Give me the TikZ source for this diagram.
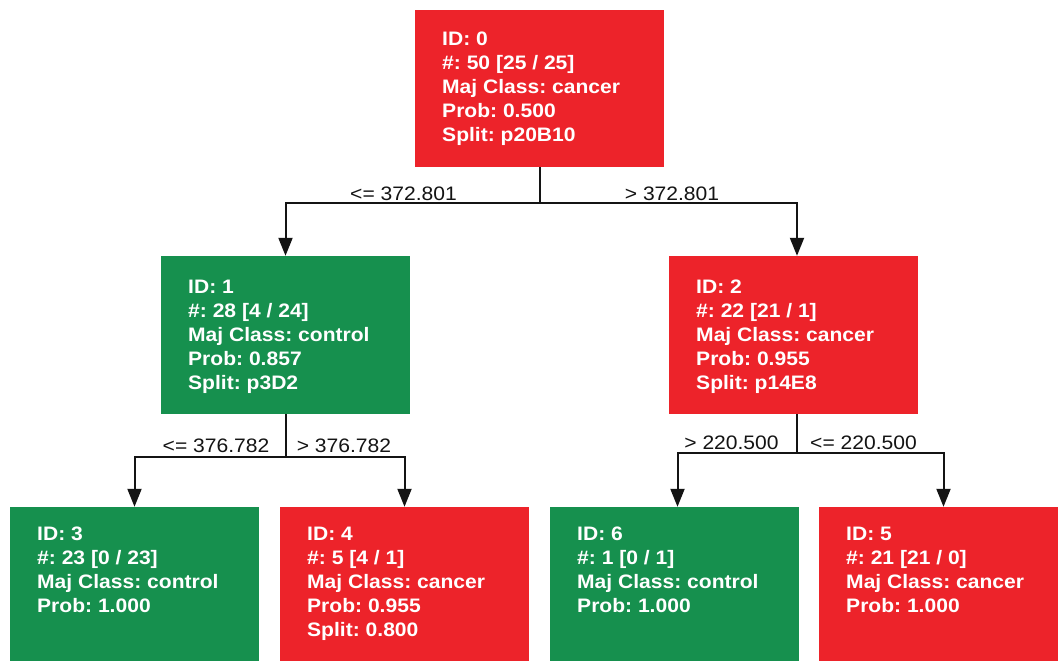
\documentclass[tikz,border=0pt]{standalone}
\usepackage{fontspec}
\setmainfont{Liberation Sans}[FakeStretch=1.08]
\usetikzlibrary{arrows.meta}
\definecolor{nred}{RGB}{237,35,42}
\definecolor{ngreen}{RGB}{22,144,78}
\definecolor{lnk}{RGB}{20,20,20}
\frenchspacing
\begin{document}
\begin{tikzpicture}[x=1pt,y=-1pt,
 box/.style={rectangle, draw=none, minimum width=249pt, minimum height=157pt, inner sep=0},
 info/.style={anchor=north west, inner sep=0, align=left, text=white, font=\fontsize{19.5}{24}\selectfont\bfseries},
 elab/.style={anchor=base, inner sep=0, font=\fontsize{19.5}{23}\selectfont, text=lnk},
 conn/.style={draw=lnk, line width=2pt},
 arr/.style={conn, -{Triangle[width=14pt,length=18pt]}}
]
\useasboundingbox (0,0) rectangle (1058,661);
\clip (0,0) rectangle (1058,661);
\fill[white] (0,0) rectangle (1058,661);

% boxes
\node[box, fill=nred]   (n0) at (539.5,88.5) {};
\node[box, fill=ngreen, minimum height=158pt] (n1) at (285.5,335) {};
\node[box, fill=nred, minimum height=158pt]   (n2) at (793.5,335) {};
\node[box, fill=ngreen] (n3) at (134.5,585.5) {};
\node[box, fill=nred]   (n4) at (404.5,585.5) {};
\node[box, fill=ngreen] (n6) at (674,585.5) {};
\node[box, fill=nred]   (n5) at (943.5,585.5) {};

% texts
\node[info] (t0) at (442,32) {ID: 0\\\#: 50 [25 / 25]\\Maj Class: cancer\\Prob: 0.500\\Split: p20B10};
\node[info] (t1) at (188,279.5) {ID: 1\\\#: 28 [4 / 24]\\Maj Class: control\\Prob: 0.857\\Split: p3D2};
\node[info] (t2) at (696,279.5) {ID: 2\\\#: 22 [21 / 1]\\Maj Class: cancer\\Prob: 0.955\\Split: p14E8};
\node[info] (t3) at (37,526.5) {ID: 3\\\#: 23 [0 / 23]\\Maj Class: control\\Prob: 1.000};
\node[info] (t4) at (307,526.5) {ID: 4\\\#: 5 [4 / 1]\\Maj Class: cancer\\Prob: 0.955\\Split: 0.800};
\node[info] (t6) at (577,526.5) {ID: 6\\\#: 1 [0 / 1]\\Maj Class: control\\Prob: 1.000};
\node[info] (t5) at (846,526.5) {ID: 5\\\#: 21 [21 / 0]\\Maj Class: cancer\\Prob: 1.000};

% connectors
\coordinate (j0) at (539.5,203);
\draw[conn] (n0.south) -- (j0);
\draw[arr] (j0) -| (n1.north);
\draw[arr] (j0) -| ([xshift=3.5pt]n2.north);

\coordinate (j1) at (285.5,456.5);
\draw[conn] (n1.south) -- (j1);
\draw[arr] (j1) -| (n3.north);
\draw[arr] (j1) -| (n4.north);

\coordinate (j2) at (797,452.5);
\draw[conn] ([xshift=3.5pt]n2.south) -- (j2);
\draw[arr] (j2) -| ([xshift=3.5pt]n6.north);
\draw[arr] (j2) -| (n5.north);

% edge labels
\node[elab] (l01) at (403.5,200) {<= 372.801};
\node[elab] (l02) at (672,200) {> 372.801};
\node[elab] (l13) at (216,452) {<= 376.782};
\node[elab] (l14) at (344,452) {> 376.782};
\node[elab] (l26) at (731.5,449) {> 220.500};
\node[elab] (l25) at (863.5,449) {<= 220.500};
\end{tikzpicture}
\end{document}
